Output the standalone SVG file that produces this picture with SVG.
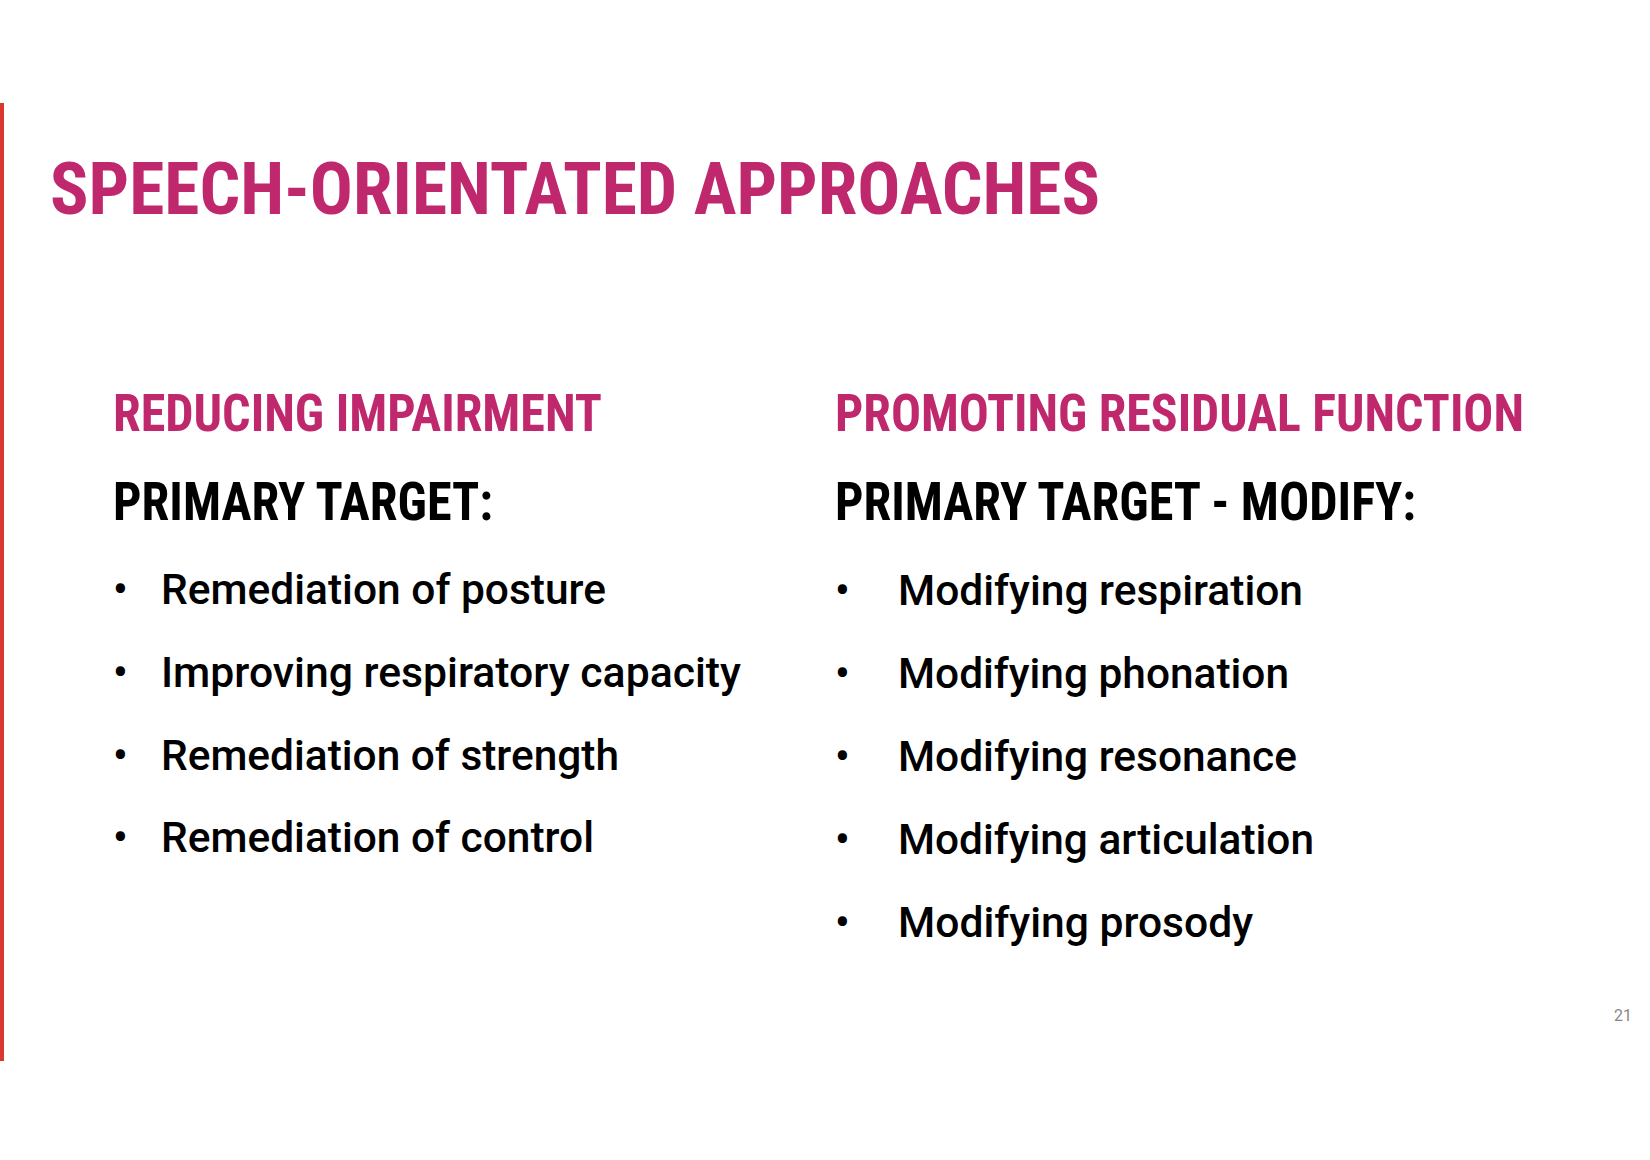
<svg xmlns="http://www.w3.org/2000/svg" width="1650" height="1160" viewBox="0 0 1650 1160">
<style>
.h{font-family:"Roboto Condensed",Roboto,"Liberation Sans",sans-serif;font-weight:700;fill:#C0286E}
.k{font-family:"Roboto Condensed",Roboto,"Liberation Sans",sans-serif;font-weight:700;fill:#000}
.b{font-family:Roboto,"Liberation Sans",sans-serif;font-weight:500;font-size:42px;fill:#000}
</style>
<rect width="1650" height="1160" fill="#fff"/>
<rect x="0" y="103" width="4" height="958" fill="#D9382E"/>
<text class="h" x="50" y="214" font-size="72" textLength="1050" lengthAdjust="spacingAndGlyphs">SPEECH-ORIENTATED APPROACHES</text>
<g id="left">
<text class="h" x="113" y="431" font-size="51" textLength="489" lengthAdjust="spacingAndGlyphs">REDUCING IMPAIRMENT</text>
<text class="k" x="113" y="520" font-size="53" textLength="380" lengthAdjust="spacingAndGlyphs">PRIMARY TARGET:</text>
<text class="b" x="113" y="604">•</text><text class="b" x="161" y="604" textLength="445" lengthAdjust="spacingAndGlyphs">Remediation of posture</text>
<text class="b" x="113" y="687">•</text><text class="b" x="161" y="687" textLength="580" lengthAdjust="spacingAndGlyphs">Improving respiratory capacity</text>
<text class="b" x="113" y="770">•</text><text class="b" x="161" y="770" textLength="458" lengthAdjust="spacingAndGlyphs">Remediation of strength</text>
<text class="b" x="113" y="852">•</text><text class="b" x="161" y="852" textLength="433" lengthAdjust="spacingAndGlyphs">Remediation of control</text>
</g>
<g id="right">
<text class="h" x="835" y="431" font-size="51" textLength="689" lengthAdjust="spacingAndGlyphs">PROMOTING RESIDUAL FUNCTION</text>
<text class="k" x="835" y="520" font-size="53" textLength="581" lengthAdjust="spacingAndGlyphs">PRIMARY TARGET - MODIFY:</text>
<text class="b" x="835" y="605">•</text><text class="b" x="898" y="605" textLength="405" lengthAdjust="spacingAndGlyphs">Modifying respiration</text>
<text class="b" x="835" y="688">•</text><text class="b" x="898" y="688" textLength="391" lengthAdjust="spacingAndGlyphs">Modifying phonation</text>
<text class="b" x="835" y="771">•</text><text class="b" x="898" y="771" textLength="399" lengthAdjust="spacingAndGlyphs">Modifying resonance</text>
<text class="b" x="835" y="854">•</text><text class="b" x="898" y="854" textLength="416" lengthAdjust="spacingAndGlyphs">Modifying articulation</text>
<text class="b" x="835" y="937">•</text><text class="b" x="898" y="937" textLength="355" lengthAdjust="spacingAndGlyphs">Modifying prosody</text>
</g>
<text x="1632" y="1021" text-anchor="end" font-family="Roboto,'Liberation Sans',sans-serif" font-size="16" fill="#888">21</text>
</svg>
